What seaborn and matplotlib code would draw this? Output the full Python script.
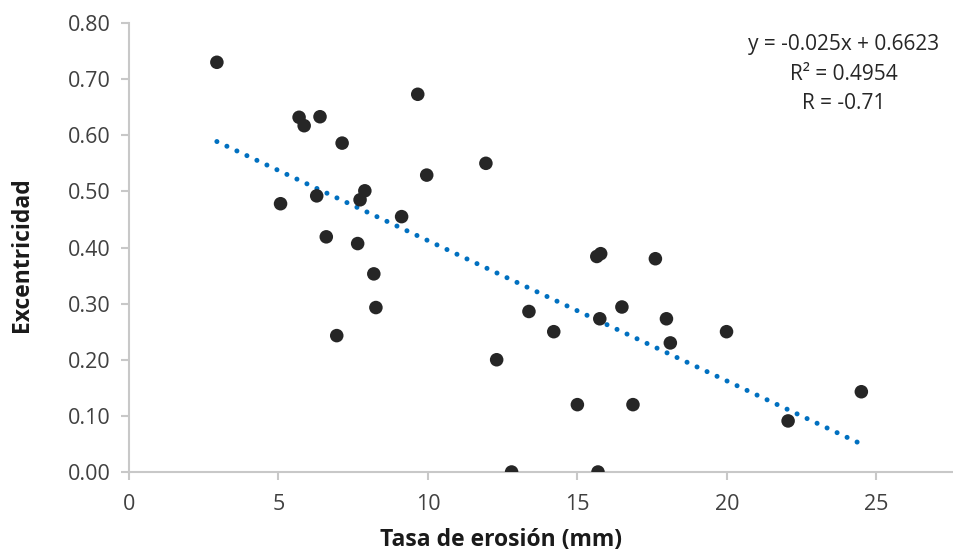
import matplotlib
matplotlib.use("Agg")
import matplotlib.pyplot as plt
import seaborn as sns
import numpy as np
import pandas as pd

# Data
tasa_erosion = [2.94, 5.69, 5.86, 6.39, 7.13, 7.89, 7.73, 5.07, 6.28, 9.12,
                6.60, 7.65, 9.66, 11.94, 9.96, 8.19, 8.26, 6.95,
                15.65, 15.78, 17.61, 16.49, 15.75, 17.98, 18.11, 13.38,
                14.21, 12.30, 15.00, 16.86, 12.80, 15.69, 19.99, 22.05, 24.50]
excentricidad = [0.730, 0.632, 0.617, 0.633, 0.586, 0.501, 0.485, 0.478, 0.492, 0.455,
                 0.419, 0.407, 0.673, 0.550, 0.529, 0.353, 0.293, 0.243,
                 0.384, 0.389, 0.380, 0.294, 0.273, 0.273, 0.230, 0.286,
                 0.250, 0.200, 0.120, 0.120, 0.000, 0.000, 0.250, 0.091, 0.143]
slope = -0.025
intercept = 0.6623
x_ticks = [0, 5, 10, 15, 20, 25]
y_ticks = [0.0, 0.1, 0.2, 0.3, 0.4, 0.5, 0.6, 0.7, 0.8]
eq_text = "y = -0.025x + 0.6623\nR² = 0.4954\nR = -0.71"

sns.set_theme(style="white")
plt.rcParams['font.family'] = ['Open Sans', 'DejaVu Sans']

df = pd.DataFrame({"x": tasa_erosion, "y": excentricidad})
xr = np.array([min(tasa_erosion), max(tasa_erosion)])
trend = pd.DataFrame({"x": xr, "y": slope * xr + intercept})

fig = plt.figure(figsize=(9.54, 5.56), dpi=100)
ax = fig.add_axes([129 / 954, 1 - 472 / 556, 1 - 129 / 954, (472 - 23) / 556])

sns.lineplot(data=trend, x="x", y="y", ax=ax, color="#0070C0", linewidth=3.6,
             dashes=False, zorder=1)
line = ax.lines[-1]
line.set_linestyle((0, (0.01, 2.2)))
line.set_dash_capstyle("round")

sns.scatterplot(data=df, x="x", y="y", ax=ax, s=95, color="#262626",
                edgecolor="none", zorder=3)

ax.set_xlim(0, 27.6)
ax.set_ylim(0, 0.8)
ax.set_xticks(x_ticks)
ax.set_xticklabels([str(t) for t in x_ticks])
ax.set_yticks(y_ticks)
ax.set_yticklabels([f"{t:.2f}" for t in y_ticks])

for s in ["top", "right"]:
    ax.spines[s].set_visible(False)
for s in ["left", "bottom"]:
    ax.spines[s].set_color("#C8C8C8")
    ax.spines[s].set_linewidth(1.5)

ax.tick_params(axis="both", which="major", direction="out", length=6, width=1.5,
               color="#C8C8C8", labelsize=15.5, labelcolor="#404040",
               left=True, bottom=True)
ax.tick_params(axis="x", pad=10)
ax.tick_params(axis="y", pad=7)

ax.set_xlabel("Tasa de erosión (mm)", fontsize=16.5, fontweight="bold",
              color="#1a1a1a", va="center")
ax.set_ylabel("Excentricidad", fontsize=16.5, fontweight="bold",
              color="#1a1a1a", va="center")
ax.xaxis.set_label_coords((501 - 129) / 825, (472 - 540) / 449)
ax.yaxis.set_label_coords((22 - 129) / 825, (472 - 255) / 449)

fig.text(844 / 954, 1 - 74 / 556, eq_text, ha="center", va="center",
         fontsize=15, color="#262626", linespacing=1.55)

fig.savefig("out.png", dpi=100)
